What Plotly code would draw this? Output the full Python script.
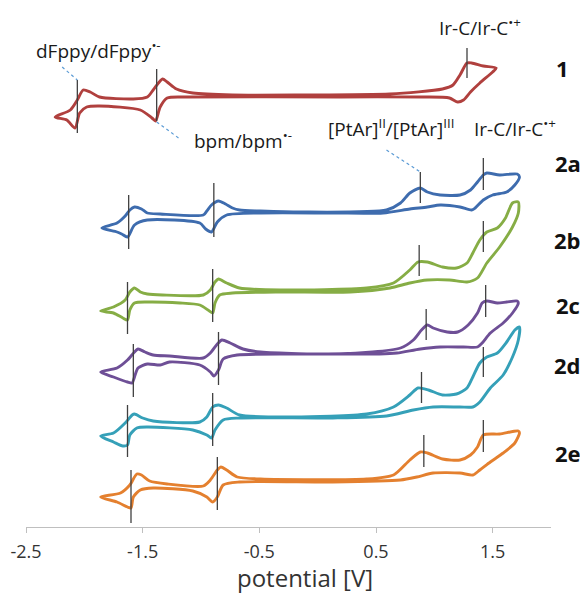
import plotly.graph_objects as go

# ---- data (potential in V, trace position in stacked offset units; axis reversed) ----
pot_1 = [-2.25,-2.12,-2.06,-2.01,-1.95,-1.87,-1.58,-1.46,-1.41,-1.33,-1.29,-1.21,-1.07,-0.73,-0.15,0.62,1.07,1.16,1.22,1.28,1.32,1.42,1.53,
         1.50,1.39,1.31,1.25,1.20,1.13,0.90,0.19,-1.12,-1.29,-1.35,-1.39,-1.42,-1.52,-1.87,-1.98,-2.04,-2.08,-2.15,-2.25]
cur_1 = [117,110,100,90,92,97,99,97,90,79,82,89,93,95,95,94,89,85,75,63,63,66,68,
         72,83,92,100,102,98,97,97,97,98,107,121,118,110,106,107,113,128,120,117]

pot_2a = [-1.85,-1.72,-1.65,-1.61,-1.57,-1.51,-1.46,-1.35,-0.98,-0.95,-0.91,-0.85,-0.79,-0.73,-0.67,-0.49,-0.15,0.59,0.71,0.79,0.88,0.94,1.05,1.22,1.31,1.37,1.42,1.45,1.56,1.71,1.73,
          1.69,1.62,1.50,1.42,1.35,1.32,1.22,1.05,0.94,0.79,0.56,0.13,-0.49,-0.78,-0.86,-0.91,-0.96,-1.01,-1.46,-1.57,-1.63,-1.68,-1.72,-1.85]
cur_2a = [228,223,216,210,207,209,213,214,215,211,205,201,204,208,210,211,212,210,203,193,188,192,195,195,190,182,175,173,175,174,177,
          185,192,195,200,208,210,207,205,207,209,213,213,213,215,222,232,229,223,220,225,237,234,232,228]

pot_2b = [-1.86,-1.75,-1.65,-1.61,-1.57,-1.52,-1.46,-1.33,-0.98,-0.92,-0.88,-0.85,-0.78,-0.67,-0.32,0.42,0.65,0.79,0.86,0.94,1.07,1.19,1.28,1.33,1.39,1.45,1.54,1.61,1.67,1.72,
          1.72,1.67,1.56,1.45,1.37,1.28,1.13,0.94,0.79,0.62,0.28,-0.32,-0.73,-0.84,-0.88,-0.90,-0.94,-1.01,-1.18,-1.46,-1.57,-1.61,-1.63,-1.67,-1.75,-1.86]
cur_2b = [311,307,300,292,288,292,294,295,295,290,282,279,283,288,290,288,283,270,262,262,267,268,263,253,240,232,228,218,203,202,
          213,227,247,263,278,282,280,280,283,288,292,292,293,295,303,313,310,305,303,302,303,310,320,318,313,311]

pot_2c = [-1.86,-1.72,-1.63,-1.57,-1.54,-1.48,-1.41,-1.27,-0.98,-0.92,-0.86,-0.82,-0.75,-0.64,-0.49,0.19,0.71,0.82,0.89,0.94,0.99,1.11,1.20,1.29,1.37,1.41,1.45,1.54,1.62,1.71,1.72,
          1.67,1.59,1.48,1.41,1.37,1.25,1.05,0.88,0.68,0.53,-0.21,-0.69,-0.81,-0.85,-0.89,-0.92,-1.01,-1.27,-1.35,-1.46,-1.54,-1.57,-1.59,-1.63,-1.75,-1.86]
cur_2c = [372,368,360,352,349,352,355,356,358,353,344,340,343,349,352,354,348,340,330,325,328,332,332,325,313,303,301,303,302,301,303,
          313,323,333,343,347,347,347,349,353,354,354,355,359,370,376,372,365,362,365,364,368,377,383,382,377,372]

pot_2d = [-1.86,-1.75,-1.65,-1.59,-1.57,-1.50,-1.41,-1.01,-0.95,-0.90,-0.85,-0.78,-0.67,-0.21,0.42,0.65,0.79,0.86,0.95,1.07,1.19,1.28,1.33,1.39,1.45,1.54,1.62,1.69,1.73,
          1.72,1.67,1.59,1.48,1.39,1.33,1.22,0.99,0.82,0.59,0.13,-0.67,-0.81,-0.88,-0.91,-0.95,-1.07,-1.46,-1.55,-1.61,-1.63,-1.67,-1.75,-1.86]
cur_2d = [436,433,423,415,414,418,421,422,417,407,405,408,415,417,414,407,395,388,390,395,394,388,377,363,357,353,342,330,327,
          340,357,375,388,402,407,407,407,410,416,418,418,420,430,438,435,430,427,428,435,445,446,442,436]

pot_2e = [-1.86,-1.69,-1.61,-1.55,-1.51,-1.44,-1.29,-0.98,-0.92,-0.86,-0.83,-0.78,-0.69,-0.49,0.42,0.65,0.79,0.88,0.94,1.07,1.22,1.31,1.37,1.42,1.56,1.72,1.73,
          1.69,1.59,1.48,1.39,1.33,1.22,0.99,0.85,0.71,0.13,-0.67,-0.81,-0.86,-0.90,-0.95,-1.07,-1.41,-1.52,-1.58,-1.60,-1.63,-1.72,-1.86]
cur_2e = [497,493,485,474,475,481,484,486,480,470,467,470,477,479,479,475,460,452,453,459,460,455,447,435,434,431,433,
          443,453,462,470,475,473,473,477,480,482,482,485,497,502,497,491,488,490,497,508,507,502,497]

series_names = ["1", "2a", "2b", "2c", "2d", "2e"]
series_colors = ["#B0403E", "#3E6CAE", "#86AD45", "#6E4F96", "#35A0B8", "#E4802F"]
series_pot = [pot_1, pot_2a, pot_2b, pot_2c, pot_2d, pot_2e]
series_cur = [cur_1, cur_2a, cur_2b, cur_2c, cur_2d, cur_2e]
label_pos = [68, 163, 240, 305, 365, 453]

# peak position markers (potential, top, bottom)
marker_pot = [-2.06,-1.38,1.28, -1.62,-0.89,0.88,1.42, -1.63,-0.90,0.87,1.42,
              -1.58,-0.85,0.93,1.44, -1.63,-0.90,0.89,1.42, -1.60,-0.86,0.91,1.42]
marker_top = [80,69,48, 195,183,172,158, 282,269,245,221, 344,332,309,285, 405,393,372,347, 470,457,435,420]
marker_bot = [133,121,78, 249,237,203,190, 334,322,276,252, 397,385,340,317, 457,446,403,377, 523,510,467,452]

# leader lines for the assignment labels
leader_pot = [[-2.19, -2.06], [-1.38, -1.18], [0.59, 0.88]]
leader_y = [[67, 80], [122, 139], [150, 172]]

tick_vals = [-2.5, -1.5, -0.5, 0.5, 1.5]
tick_text = ["-2.5", "-1.5", "-0.5", "0.5", "1.5"]

fig = go.Figure()
for name, col, px, cy in zip(series_names, series_colors, series_pot, series_cur):
    fig.add_trace(go.Scatter(x=px, y=cy, mode="lines", name=name,
                             line=dict(color=col, width=2.9, shape="spline", smoothing=0.7),
                             showlegend=False, hoverinfo="skip"))

mx, my = [], []
for p, t, b in zip(marker_pot, marker_top, marker_bot):
    mx += [p, p, None]
    my += [t, b, None]
fig.add_trace(go.Scatter(x=mx, y=my, mode="lines", line=dict(color="#404040", width=1.3),
                         showlegend=False, hoverinfo="skip"))

lx, ly = [], []
for p, yy in zip(leader_pot, leader_y):
    lx += p + [None]
    ly += yy + [None]
fig.add_trace(go.Scatter(x=lx, y=ly, mode="lines", line=dict(color="#5B9BD5", width=1.2, dash="dot"),
                         showlegend=False, hoverinfo="skip"))

lab_font = dict(family="Open Sans, Noto Sans, sans-serif", size=19, color="#1a1a1a")
annos = [
    ("dFppy/dFppy<sup>•-</sup>", -1.88, 50),
    ("bpm/bpm<sup>•-</sup>", -0.64, 140),
    ("Ir-C/Ir-C<sup>•+</sup>", 1.39, 27),
    ("[PtAr]<sup>II</sup>/[PtAr]<sup>III</sup>", 0.63, 128),
    ("Ir-C/Ir-C<sup>•+</sup>", 1.69, 128),
]
for txt, x, y in annos:
    fig.add_annotation(x=x, y=y, xref="x", yref="y", text=txt, showarrow=False,
                       font=lab_font, xanchor="center", yanchor="middle")
for i, (name, y) in enumerate(zip(series_names, label_pos)):
    fig.add_annotation(x=1.021 if i == 0 else 1.032, y=y, xref="paper", yref="y",
                       text="<b>%s</b>" % name, showarrow=False,
                       font=dict(family="Open Sans, sans-serif", size=22, color="#111111"),
                       xanchor="center", yanchor="middle")

# axis title placed as a paper annotation (sits right of the plot centre in the reference)
fig.add_annotation(x=0.531, y=-0.098, xref="paper", yref="paper", text="potential [V]",
                   showarrow=False, xanchor="center", yanchor="middle",
                   font=dict(family="Open Sans, sans-serif", size=24, color="#333333"))

# page body has an 8 px margin, so the figure is 580x592 placed at (8, 8)
fig.update_layout(
    width=580, height=592,
    margin=dict(l=18, r=37, t=0, b=73, autoexpand=False),
    paper_bgcolor="white", plot_bgcolor="white",
    xaxis=dict(range=[-2.5, 2.0], tickvals=tick_vals, ticktext=tick_text, automargin=False,
               showgrid=False, zeroline=False, showline=True, linecolor="#BFBFBF", linewidth=1,
               ticks="outside", ticklen=5, tickcolor="#BFBFBF", ticklabelstandoff=3,
               tickfont=dict(family="Open Sans, sans-serif", size=18, color="#333333")),
    yaxis=dict(range=[527, 8], visible=False, automargin=False),
)

fig.write_html("out.html")
